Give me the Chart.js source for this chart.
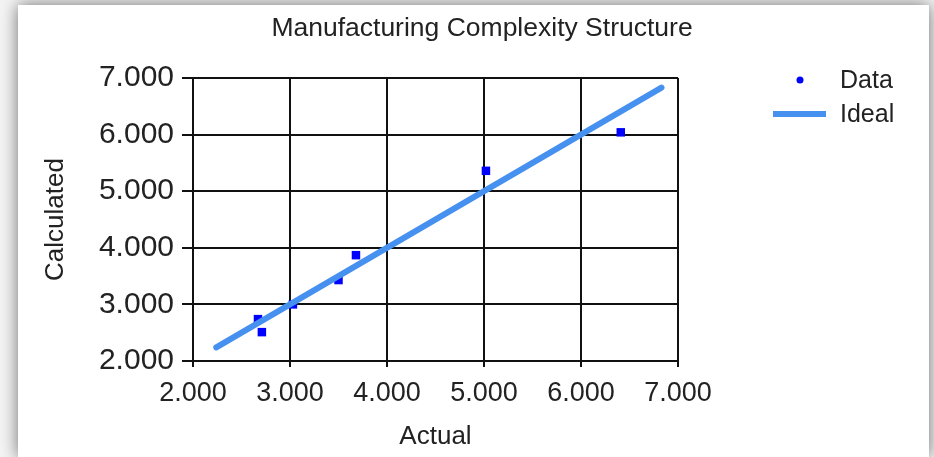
<!DOCTYPE html>
<html lang="en">
<head>
    <meta charset="UTF-8">
    <title>Manufacturing Complexity Structure</title>
    <script src="https://cdn.jsdelivr.net/npm/chart.js"></script>
    <style>
        html, body {
            margin: 0;
            padding: 0;
            width: 934px;
            height: 457px;
            overflow: hidden;
            background: #f4f4f4;
        }
        #panel {
            position: absolute;
            left: 18px;
            top: 5px;
            width: 911px;
            height: 452px;
            background: #fff;
            box-shadow: 0 0 16px rgba(0, 0, 0, 0.55);
        }
        #myChart {
            display: block;
        }
    </style>
</head>
<body>
    <div id="panel"><canvas id="myChart" width="911" height="452"></canvas></div>

    <script>
        // Values
        const actual = [2.67, 2.71, 3.03, 3.50, 3.68, 5.02, 6.41];
        const calculated = [2.74, 2.51, 3.00, 3.43, 3.87, 5.36, 6.04];
        const idealX = [2.24, 6.83];
        const idealY = [2.24, 6.83];
        const tickValues = [2, 3, 4, 5, 6, 7];

        const font = "'Liberation Sans', Arial, sans-serif";

        const dataPoints = actual.map((x, i) => ({ x: x, y: calculated[i] }));
        const idealPoints = idealX.map((x, i) => ({ x: x, y: idealY[i] }));

        // Title drawn above the plot
        const titlePlugin = {
            id: 'topTitle',
            afterDraw(chart) {
                const ctx = chart.ctx;
                ctx.save();
                ctx.font = '26.5px ' + font;
                ctx.fillStyle = '#222';
                ctx.textAlign = 'center';
                ctx.textBaseline = 'alphabetic';
                ctx.fillText('Manufacturing Complexity Structure', 464, 31);
                ctx.restore();
            }
        };

        // Legend on the right, built from the datasets
        const legendPlugin = {
            id: 'sideLegend',
            afterDraw(chart) {
                const ctx = chart.ctx;
                ctx.save();
                ctx.font = '25px ' + font;
                ctx.textBaseline = 'middle';
                ctx.textAlign = 'left';
                chart.data.datasets.forEach((ds, i) => {
                    const y = 76 + i * 34;
                    if (ds.showLine) {
                        ctx.strokeStyle = ds.borderColor;
                        ctx.lineWidth = ds.borderWidth;
                        ctx.lineCap = 'butt';
                        ctx.beginPath();
                        ctx.moveTo(755, y - 1);
                        ctx.lineTo(808, y - 1);
                        ctx.stroke();
                    } else {
                        ctx.fillStyle = ds.backgroundColor;
                        ctx.beginPath();
                        ctx.arc(782, y - 1, 3.5, 0, Math.PI * 2);
                        ctx.fill();
                    }
                    ctx.fillStyle = '#222';
                    ctx.fillText(ds.label, 822, y);
                });
                ctx.restore();
            }
        };

        const ctx = document.getElementById('myChart').getContext('2d');
        new Chart(ctx, {
            type: 'scatter',
            data: {
                datasets: [{
                    label: 'Data',
                    data: dataPoints,
                    showLine: false,
                    pointStyle: 'rect',
                    pointRadius: 6,
                    pointHoverRadius: 6,
                    backgroundColor: '#0000ff',
                    borderColor: '#0000ff',
                    borderWidth: 0,
                    order: 2
                }, {
                    label: 'Ideal',
                    data: idealPoints,
                    showLine: true,
                    pointRadius: 0,
                    borderColor: 'rgb(70, 145, 240)',
                    backgroundColor: 'rgb(70, 145, 240)',
                    borderWidth: 6,
                    borderCapStyle: 'round',
                    order: 1
                }]
            },
            options: {
                responsive: false,
                animation: false,
                layout: {
                    padding: { top: 73, right: 251, bottom: 0, left: 0 }
                },
                plugins: {
                    legend: { display: false },
                    title: { display: false },
                    tooltip: { enabled: false }
                },
                scales: {
                    x: {
                        type: 'linear',
                        min: 2,
                        max: 7,
                        afterBuildTicks: (axis) => { axis.ticks = tickValues.map(v => ({ value: v })); },
                        afterFit: (axis) => { axis.height = 96; },
                        ticks: {
                            padding: 10,
                            color: '#222',
                            font: { family: font, size: 27 },
                            callback: (v) => Number(v).toFixed(3),
                            maxRotation: 0
                        },
                        grid: { color: '#111', lineWidth: 2, tickLength: 6 },
                        border: { color: '#111', width: 2 },
                        title: {
                            display: true,
                            text: 'Actual',
                            color: '#222',
                            font: { family: font, size: 26 },
                            padding: { top: 0, bottom: 5 }
                        }
                    },
                    y: {
                        type: 'linear',
                        min: 2,
                        max: 7,
                        afterBuildTicks: (axis) => { axis.ticks = tickValues.map(v => ({ value: v })); },
                        afterFit: (axis) => { axis.width = 175; },
                        ticks: {
                            padding: 8,
                            color: '#222',
                            font: { family: font, size: 30 },
                            callback: (v) => Number(v).toFixed(3)
                        },
                        grid: { color: '#111', lineWidth: 2, tickLength: 11 },
                        border: { color: '#111', width: 2 },
                        title: {
                            display: true,
                            text: 'Calculated',
                            color: '#222',
                            font: { family: font, size: 26 },
                            padding: { top: 22, bottom: 0 }
                        }
                    }
                }
            },
            plugins: [titlePlugin, legendPlugin]
        });
    </script>
</body>
</html>
